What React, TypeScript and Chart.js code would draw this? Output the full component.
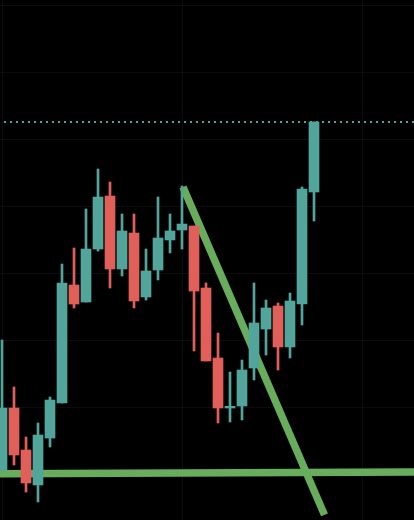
import React, { useEffect, useRef } from "react";
import { Chart, registerables } from "chart.js";

Chart.register(...registerables);

// Candle index (x) runs 0..26
const opens = [200.6, 209.85, 203.58, 198.36, 205.37, 210.6, 228.21, 225.67, 233.58, 241.49, 230.6, 235.97, 226.42, 230.45, 234.93, 236.42, 237.01, 227.76, 217.31, 209.85, 210.15, 215.82, 221.64, 225.07, 218.96, 225.37, 242.09];
const highs = [220.0, 212.99, 205.52, 207.61, 211.49, 231.34, 233.73, 239.55, 245.52, 243.58, 238.81, 238.81, 233.58, 241.34, 238.81, 242.99, 237.01, 228.51, 221.04, 215.22, 217.01, 228.51, 225.97, 225.52, 227.01, 242.84, 252.54];
const lows = [200.45, 201.34, 197.31, 195.82, 204.03, 210.6, 224.78, 225.67, 233.28, 227.76, 229.55, 224.78, 225.97, 228.96, 232.99, 233.58, 218.36, 216.87, 207.61, 207.76, 208.06, 214.03, 217.76, 215.52, 217.31, 222.24, 237.76];
const closes = [209.85, 202.84, 198.66, 205.82, 211.04, 228.51, 225.37, 233.58, 241.34, 230.6, 236.27, 225.82, 230.3, 235.22, 236.27, 237.31, 227.31, 216.87, 209.85, 210.1, 215.52, 222.54, 224.78, 218.96, 225.82, 242.54, 252.54];

const priceGridTicks = [200, 210, 220, 230, 240, 250, 260, 270];
const timeGridTicks = [0, 15, 30];

const supportLine = [
  { x: -0.17, y: 200.04 },
  { x: 34.34, y: 200.3 },
];
const trendLine = [
  { x: 15.08, y: 242.84 },
  { x: 26.875, y: 193.9 },
];
const lastPrice = closes[closes.length - 1];
const priceLineSpan = [0.1667, 34.6];

const UP = "#52a59a";
const DOWN = "#e05f59";
const LINE_GREEN = "#68ad5b";
const GRID = "rgba(42,46,57,0.25)";

export default function App() {
  const ref = useRef<HTMLCanvasElement | null>(null);

  useEffect(() => {
    document.body.style.margin = "0";
    document.body.style.background = "#000";
    const canvas = ref.current;
    if (!canvas) return;
    const colors = opens.map((o, i) => (closes[i] >= o ? UP : DOWN));
    const chart = new Chart(canvas, {
      type: "bar",
      data: {
        datasets: [
          {
            type: "bar",
            data: opens.map((o, i) => ({ x: i, y: [o, closes[i]] })) as any,
            backgroundColor: colors,
            borderWidth: 0,
            barThickness: 10,
            maxBarThickness: 10,
            grouped: false,
            order: 0,
          } as any,
          {
            type: "bar",
            data: lows.map((l, i) => ({ x: i, y: [l, highs[i]] })) as any,
            backgroundColor: colors,
            borderWidth: 0,
            barThickness: 2,
            maxBarThickness: 2,
            grouped: false,
            order: 1,
          } as any,
          {
            type: "line",
            data: [
              { x: priceLineSpan[0], y: lastPrice },
              { x: priceLineSpan[1], y: lastPrice },
            ],
            borderColor: UP,
            borderWidth: 2,
            borderDash: [2, 4],
            borderCapStyle: "butt",
            pointRadius: 0,
            fill: false,
            order: 4,
          } as any,
          {
            type: "line",
            data: supportLine,
            borderColor: LINE_GREEN,
            borderWidth: 7.5,
            borderCapStyle: "butt",
            pointRadius: 0,
            fill: false,
            order: 5,
          } as any,
          {
            type: "line",
            data: trendLine,
            borderColor: LINE_GREEN,
            borderWidth: 7.5,
            borderCapStyle: "butt",
            pointRadius: 0,
            fill: false,
            order: 5,
          } as any,
        ],
      },
      options: {
        responsive: false,
        animation: false,
        devicePixelRatio: 1,
        layout: { padding: 0 },
        plugins: {
          legend: { display: false },
          tooltip: { enabled: false },
        },
        scales: {
          x: {
            type: "linear",
            min: -1 / 6,
            max: 34.5 - 1 / 6,
            offset: false,
            grid: { color: GRID, drawTicks: false, offset: false },
            border: { display: false },
            ticks: { display: false },
            afterBuildTicks: (s: any) => {
              s.ticks = timeGridTicks.map((v) => ({ value: v }));
            },
          },
          y: {
            type: "linear",
            min: 270 - 515 / 6.7,
            max: 270 + 5 / 6.7,
            grid: { color: GRID, drawTicks: false },
            border: { display: false },
            ticks: { display: false },
            afterBuildTicks: (s: any) => {
              s.ticks = priceGridTicks.map((v) => ({ value: v }));
            },
          },
        },
      } as any,
    });
    return () => chart.destroy();
  }, []);

  return (
    <div style={{ width: 414, height: 520, background: "#000" }}>
      <canvas ref={ref} width={414} height={520} style={{ display: "block", width: 414, height: 520 }} />
    </div>
  );
}
